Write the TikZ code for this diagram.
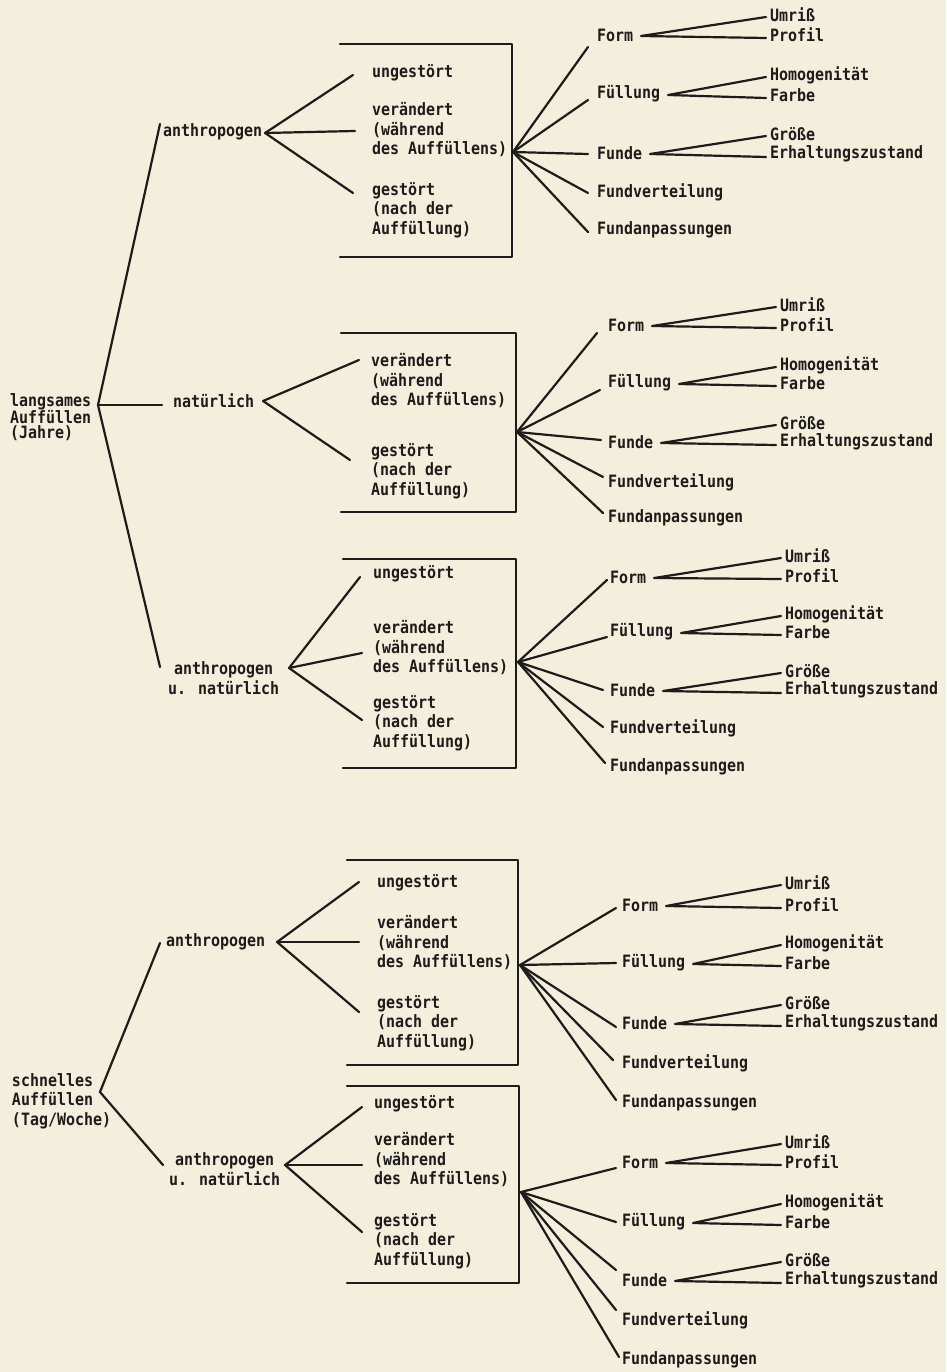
\documentclass[tikz,border=0pt]{standalone}
\usepackage{fontspec}
\newfontfamily\dotfont[FakeStretch=0.88]{DejaVu Sans Mono}
\usetikzlibrary{calc}
\definecolor{paper}{RGB}{244,238,221}
\definecolor{ink}{RGB}{30,28,26}
\newcommand\trio[9]{%
  \node[lbl] (#1) at (#3) {#2};
  \node[lbl] (#4) at (#6) {#5};
  \node[lbl] (#7) at (#9) {#8};
  \coordinate (#1c) at ($(#1.east)+(8,1)$);
  \draw[ln] ($(#4.west)+(-4,2)$) -- (#1c) -- ($(#7.west)+(-4,3)$);
}
\begin{document}
\begin{tikzpicture}[x=1pt,y=-1pt,
  lbl/.style={anchor=west,inner sep=0pt,outer sep=0pt,text=ink,
    font={\dotfont\bfseries\fontsize{17}{19.5}\selectfont},align=left},
  lblc/.style={lbl,align=center},
  ln/.style={draw=ink,line width=2.2pt,line cap=round,line join=round}]
\useasboundingbox (0,0) rectangle (946,1372);
\fill[paper] (0,0) rectangle (946,1372);

% ---------------- left structure ----------------
\node[lbl,font={\dotfont\bfseries\fontsize{17}{15}\selectfont}] (lang) at (10,417) {langsames\\Auffüllen\\(Jahre)};
\node[lbl] (schn) at (12,1101) {schnelles\\Auffüllen\\(Tag/Woche)};

% ---------------- block 1: anthropogen ----------------
\node[lbl] (a1) at (163,132) {anthropogen};
\node[lbl] (a1u) at (372,73) {ungestört};
\node[lbl] (a1v) at (372,130) {verändert\\(während\\des Auffüllens)};
\node[lbl] (a1g) at (372,210) {gestört\\(nach der\\Auffüllung)};
\coordinate (a1j) at ($(a1.east)+(3,1)$);
\draw[ln] (a1j) -- ($(a1u.west)+(-19,2)$);
\draw[ln] (a1j) -- ($(a1v.west)+(-17,1)$);
\draw[ln] (a1j) -- ($(a1g.west)+(-19,-17)$);
\draw[ln] (340,44) -- (512,44) -- (512,257) -- (340,257);
\coordinate (a1o) at (513,152);
\trio{a1fo}{Form}{597,35}{a1um}{Umriß}{770,15}{a1pr}{Profil}{770,35}
\trio{a1fu}{Füllung}{597,94}{a1ho}{Homogenität}{770,75}{a1fa}{Farbe}{770,95}
\trio{a1fd}{Funde}{597,153}{a1gr}{Größe}{770,134}{a1er}{Erhaltungszustand}{770,154}
\node[lbl] (a1fv) at (597,192) {Fundverteilung};
\node[lbl] (a1fp) at (597,230) {Fundanpassungen};
\draw[ln] (a1o) -- ($(a1fo.west)+(-9,12)$);
\draw[ln] (a1o) -- ($(a1fu.west)+(-9,6)$);
\draw[ln] (a1o) -- ($(a1fd.west)+(-9,1)$);
\draw[ln] (a1o) -- ($(a1fv.west)+(-9,1)$);
\draw[ln] (a1o) -- ($(a1fp.west)+(-9,2)$);

% ---------------- block 2: natuerlich ----------------
\node[lbl] (n) at (173,401) {natürlich};
\node[lbl] (n2v) at (371,381) {verändert\\(während\\des Auffüllens)};
\node[lbl] (n2g) at (371,471) {gestört\\(nach der\\Auffüllung)};
\coordinate (nj) at ($(n.east)+(9,0)$);
\draw[ln] (nj) -- ($(n2v.west)+(-12,-21)$);
\draw[ln] (nj) -- ($(n2g.west)+(-21,-11)$);
\draw[ln] (341,333) -- (516,333) -- (516,512) -- (341,512);
\coordinate (n2o) at (517,432);
\trio{n2fo}{Form}{608,325}{n2um}{Umriß}{780,305}{n2pr}{Profil}{780,325}
\trio{n2fu}{Füllung}{608,383}{n2ho}{Homogenität}{780,365}{n2fa}{Farbe}{780,383}
\trio{n2fd}{Funde}{608,442}{n2gr}{Größe}{780,423}{n2er}{Erhaltungszustand}{780,442}
\node[lbl] (n2fv) at (608,482) {Fundverteilung};
\node[lbl] (n2fp) at (608,518) {Fundanpassungen};
\draw[ln] (n2o) -- ($(n2fo.west)+(-11,8)$);
\draw[ln] (n2o) -- ($(n2fu.west)+(-8,7)$);
\draw[ln] (n2o) -- ($(n2fd.west)+(-7,-2)$);
\draw[ln] (n2o) -- ($(n2fv.west)+(-5,-5)$);
\draw[ln] (n2o) -- ($(n2fp.west)+(-5,-5)$);

% ---------------- block 3: anthropogen u. natuerlich ----------------
\node[lblc] (an1) at (168,678) {anthropogen\\u. natürlich};
\node[lbl] (an1u) at (373,574) {ungestört};
\node[lbl] (an1v) at (373,648) {verändert\\(während\\des Auffüllens)};
\node[lbl] (an1g) at (373,723) {gestört\\(nach der\\Auffüllung)};
\coordinate (an1j) at ($(an1.east)+(10,-10)$);
\draw[ln] (an1j) -- ($(an1u.west)+(-13,3)$);
\draw[ln] (an1j) -- ($(an1v.west)+(-11,5)$);
\draw[ln] (an1j) -- ($(an1g.west)+(-11,-3)$);
\draw[ln] (343,559) -- (516,559) -- (516,768) -- (343,768);
\coordinate (an1o) at (518,662);
\trio{an1fo}{Form}{610,577}{an1um}{Umriß}{785,556}{an1pr}{Profil}{785,576}
\trio{an1fu}{Füllung}{610,632}{an1ho}{Homogenität}{785,614}{an1fa}{Farbe}{785,632}
\trio{an1fd}{Funde}{610,690}{an1gr}{Größe}{785,671}{an1er}{Erhaltungszustand}{785,690}
\node[lbl] (an1fv) at (610,728) {Fundverteilung};
\node[lbl] (an1fp) at (610,767) {Fundanpassungen};
\draw[ln] (an1o) -- ($(an1fo.west)+(-3,3)$);
\draw[ln] (an1o) -- ($(an1fu.west)+(-3,5)$);
\draw[ln] (an1o) -- ($(an1fd.west)+(-7,0)$);
\draw[ln] (an1o) -- ($(an1fv.west)+(-7,-1)$);
\draw[ln] (an1o) -- ($(an1fp.west)+(-5,-4)$);

% ---------------- block 4: anthropogen ----------------
\node[lbl] (a2) at (166,942) {anthropogen};
\node[lbl] (a2u) at (377,883) {ungestört};
\node[lbl] (a2v) at (377,943) {verändert\\(während\\des Auffüllens)};
\node[lbl] (a2g) at (377,1023) {gestört\\(nach der\\Auffüllung)};
\coordinate (a2j) at ($(a2.east)+(12,0)$);
\draw[ln] (a2j) -- ($(a2u.west)+(-18,-1)$);
\draw[ln] (a2j) -- ($(a2v.west)+(-18,-1)$);
\draw[ln] (a2j) -- ($(a2g.west)+(-18,-11)$);
\draw[ln] (347,860) -- (518,860) -- (518,1065) -- (347,1065);
\coordinate (a2o) at (520,965);
\trio{a2fo}{Form}{622,905}{a2um}{Umriß}{785,883}{a2pr}{Profil}{785,905}
\trio{a2fu}{Füllung}{622,963}{a2ho}{Homogenität}{785,943}{a2fa}{Farbe}{785,963}
\trio{a2fd}{Funde}{622,1023}{a2gr}{Größe}{785,1003}{a2er}{Erhaltungszustand}{785,1023}
\node[lbl] (a2fv) at (622,1063) {Fundverteilung};
\node[lbl] (a2fp) at (622,1103) {Fundanpassungen};
\draw[ln] (a2o) -- ($(a2fo.west)+(-6,3)$);
\draw[ln] (a2o) -- ($(a2fu.west)+(-6,0)$);
\draw[ln] (a2o) -- ($(a2fd.west)+(-6,4)$);
\draw[ln] (a2o) -- ($(a2fv.west)+(-9,-3)$);
\draw[ln] (a2o) -- ($(a2fp.west)+(-6,-3)$);

% ---------------- block 5: anthropogen u. natuerlich ----------------
\node[lblc] (an2) at (169,1169) {anthropogen\\u. natürlich};
\node[lbl] (an2u) at (374,1104) {ungestört};
\node[lbl] (an2v) at (374,1160) {verändert\\(während\\des Auffüllens)};
\node[lbl] (an2g) at (374,1241) {gestört\\(nach der\\Auffüllung)};
\coordinate (an2j) at ($(an2.east)+(5,-4)$);
\draw[ln] (an2j) -- ($(an2u.west)+(-12,3)$);
\draw[ln] (an2j) -- ($(an2v.west)+(-12,5)$);
\draw[ln] (an2j) -- ($(an2g.west)+(-12,-9)$);
\draw[ln] (347,1086) -- (519,1086) -- (519,1283) -- (347,1283);
\coordinate (an2o) at (521,1192);
\trio{an2fo}{Form}{622,1162}{an2um}{Umriß}{785,1142}{an2pr}{Profil}{785,1162}
\trio{an2fu}{Füllung}{622,1222}{an2ho}{Homogenität}{785,1202}{an2fa}{Farbe}{785,1222}
\trio{an2fd}{Funde}{622,1280}{an2gr}{Größe}{785,1260}{an2er}{Erhaltungszustand}{785,1280}
\node[lbl] (an2fv) at (622,1320) {Fundverteilung};
\node[lbl] (an2fp) at (622,1360) {Fundanpassungen};
\draw[ln] (an2o) -- ($(an2fo.west)+(-6,6)$);
\draw[ln] (an2o) -- ($(an2fu.west)+(-6,0)$);
\draw[ln] (an2o) -- ($(an2fd.west)+(-6,-10)$);
\draw[ln] (an2o) -- ($(an2fv.west)+(-6,-10)$);
\draw[ln] (an2o) -- ($(an2fp.west)+(-3,-3)$);

% ---------------- trunk lines ----------------
\coordinate (v1) at (98,405);
\draw[ln] ($(a1.west)+(-3,-8)$) -- (v1) -- ($(an1.west)+(-8,-11)$);
\draw[ln] (v1) -- ([xshift=-11pt]n.west |- v1);
\coordinate (v2) at (100,1092);
\draw[ln] ($(a2.west)+(-6,1)$) -- (v2) -- ($(an2.west)+(-6,-4)$);
\end{tikzpicture}
\end{document}
